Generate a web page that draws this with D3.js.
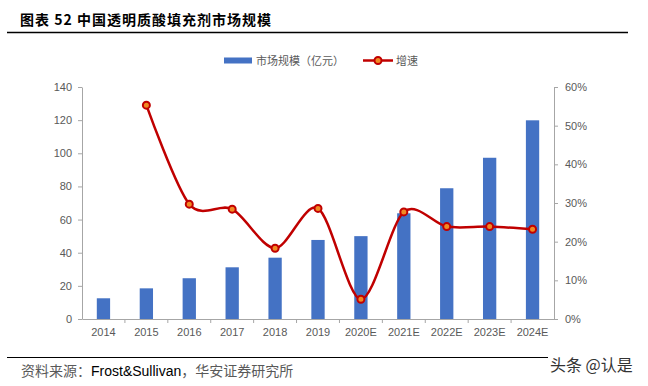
<!DOCTYPE html>
<html lang="zh">
<head>
<meta charset="UTF-8">
<title>中国透明质酸填充剂市场规模</title>
<script src="https://cdn.jsdelivr.net/npm/d3@7"></script>
<style>
  body { margin: 0; background: #fff; }
  svg { display: block; }
</style>
</head>
<body>
<div class="container"></div>
<script>
// 数据
const years = ["2014", "2015", "2016", "2017", "2018", "2019", "2020E", "2021E", "2022E", "2023E", "2024E"];
const marketSize = [12.5, 18.5, 24.6, 31.2, 37.0, 47.7, 50.0, 63.8, 78.9, 97.3, 119.9]; // 亿元
const growth = [null, 55.3, 29.7, 28.4, 18.3, 28.6, 5.1, 27.7, 23.9, 23.9, 23.2];      // %
const leftTicks = [0, 20, 40, 60, 80, 100, 120, 140];
const rightTicks = [0, 10, 20, 30, 40, 50, 60];

const width = 648, height = 386;
const marginLeft = 82, marginRight = 94, marginTop = 87, marginBottom = 67;

const blue = "#4472C4", red = "#C00000", grey = "#595959", axisGrey = "#A6A6A6";
const cjk = "'Noto Sans CJK SC', 'Noto Sans', sans-serif";
const latin = "'Liberation Sans', Arial, sans-serif";

const svg = d3.create("svg")
    .attr("width", width)
    .attr("height", height)
    .attr("viewBox", [0, 0, width, height]);

// 标题
svg.append("text")
    .attr("x", 20).attr("y", 25)
    .attr("font-family", cjk)
    .attr("font-size", 14)
    .attr("font-weight", "bold")
    .attr("letter-spacing", 1)
    .attr("fill", "#000")
    .text("图表 52 中国透明质酸填充剂市场规模");

svg.append("line")
    .attr("x1", 7).attr("x2", 628)
    .attr("y1", 32.5).attr("y2", 32.5)
    .attr("stroke", "#000").attr("stroke-width", 1.3);

// 比例尺
const x = d3.scaleBand()
    .domain(years)
    .range([marginLeft, width - marginRight]);

const y = d3.scaleLinear()
    .domain([0, 140])
    .range([height - marginBottom, marginTop]);

const y2 = d3.scaleLinear()
    .domain([0, 60])
    .range([height - marginBottom, marginTop]);

// 柱子
const barWidth = x.bandwidth() * 0.31;
svg.append("g")
    .attr("fill", blue)
    .selectAll("rect")
    .data(years.map((d, i) => ({ year: d, v: marketSize[i] })))
    .join("rect")
    .attr("x", d => x(d.year) + (x.bandwidth() - barWidth) / 2)
    .attr("y", d => y(d.v))
    .attr("width", barWidth)
    .attr("height", d => y(0) - y(d.v));

// 坐标轴
function styleAxis(g) {
    g.selectAll(".domain").attr("stroke", axisGrey);
    g.selectAll(".tick line").attr("stroke", axisGrey);
    g.selectAll(".tick text")
        .attr("fill", grey)
        .attr("font-family", latin)
        .attr("font-size", 11);
}

svg.append("g")
    .attr("transform", `translate(${marginLeft},0)`)
    .call(d3.axisLeft(y).tickValues(leftTicks).tickSize(4).tickSizeOuter(0).tickPadding(6))
    .call(styleAxis);

svg.append("g")
    .attr("transform", `translate(${width - marginRight},0)`)
    .call(d3.axisRight(y2).tickValues(rightTicks).tickSize(4).tickSizeOuter(0).tickPadding(7)
        .tickFormat(d => d + "%"))
    .call(styleAxis);

const xAxis = svg.append("g")
    .attr("transform", `translate(0,${height - marginBottom})`)
    .call(d3.axisBottom(x).tickSize(0).tickSizeOuter(0).tickPadding(9))
    .call(styleAxis);

// 类别之间的刻度线
xAxis.selectAll(".sep")
    .data(years.slice(1))
    .join("line")
    .attr("class", "sep")
    .attr("x1", d => x(d)).attr("x2", d => x(d))
    .attr("y1", 0).attr("y2", 4)
    .attr("stroke", axisGrey);

// 增速折线
const growthData = years.map((d, i) => ({ year: d, v: growth[i] })).filter(d => d.v != null);
const line = d3.line()
    .x(d => x(d.year) + x.bandwidth() / 2)
    .y(d => y2(d.v))
    .curve(d3.curveCardinal.tension(0.1));

svg.append("path")
    .datum(growthData)
    .attr("fill", "none")
    .attr("stroke", red)
    .attr("stroke-width", 2.5)
    .attr("d", line);

svg.append("g")
    .selectAll("circle")
    .data(growthData)
    .join("circle")
    .attr("cx", d => x(d.year) + x.bandwidth() / 2)
    .attr("cy", d => y2(d.v))
    .attr("r", 3.5)
    .attr("fill", "#F08A24")
    .attr("stroke", red)
    .attr("stroke-width", 2);

// 图例
const legend = svg.append("g").attr("font-family", cjk).attr("font-size", 11).attr("fill", grey);
legend.append("rect")
    .attr("x", 224).attr("y", 57.5)
    .attr("width", 28).attr("height", 6)
    .attr("fill", blue);
legend.append("text")
    .attr("x", 256).attr("y", 65)
    .text("市场规模（亿元）");
legend.append("line")
    .attr("x1", 363).attr("x2", 393)
    .attr("y1", 60.5).attr("y2", 60.5)
    .attr("stroke", red).attr("stroke-width", 2.5);
legend.append("circle")
    .attr("cx", 378).attr("cy", 60.5).attr("r", 3.5)
    .attr("fill", "#F08A24").attr("stroke", red).attr("stroke-width", 2);
legend.append("text")
    .attr("x", 396).attr("y", 65)
    .text("增速");

// 底部来源
svg.append("line")
    .attr("x1", 7).attr("x2", 548)
    .attr("y1", 357.5).attr("y2", 357.5)
    .attr("stroke", "#000").attr("stroke-width", 1);

const src = svg.append("text")
    .attr("x", 21).attr("y", 376)
    .attr("font-size", 14);
src.append("tspan").attr("font-family", cjk).attr("fill", grey).text("资料来源：");
src.append("tspan").attr("font-family", latin).attr("fill", "#000").text("Frost&Sullivan");
src.append("tspan").attr("font-family", cjk).attr("fill", grey).text("，华安证券研究所");

svg.append("text")
    .attr("x", 550).attr("y", 371)
    .attr("font-family", cjk)
    .attr("font-size", 16)
    .attr("fill", "#333")
    .attr("stroke", "#fff")
    .attr("stroke-width", 0.6)
    .attr("paint-order", "stroke")
    .text("头条 @认是");

document.querySelector(".container").appendChild(svg.node());
</script>
</body>
</html>
